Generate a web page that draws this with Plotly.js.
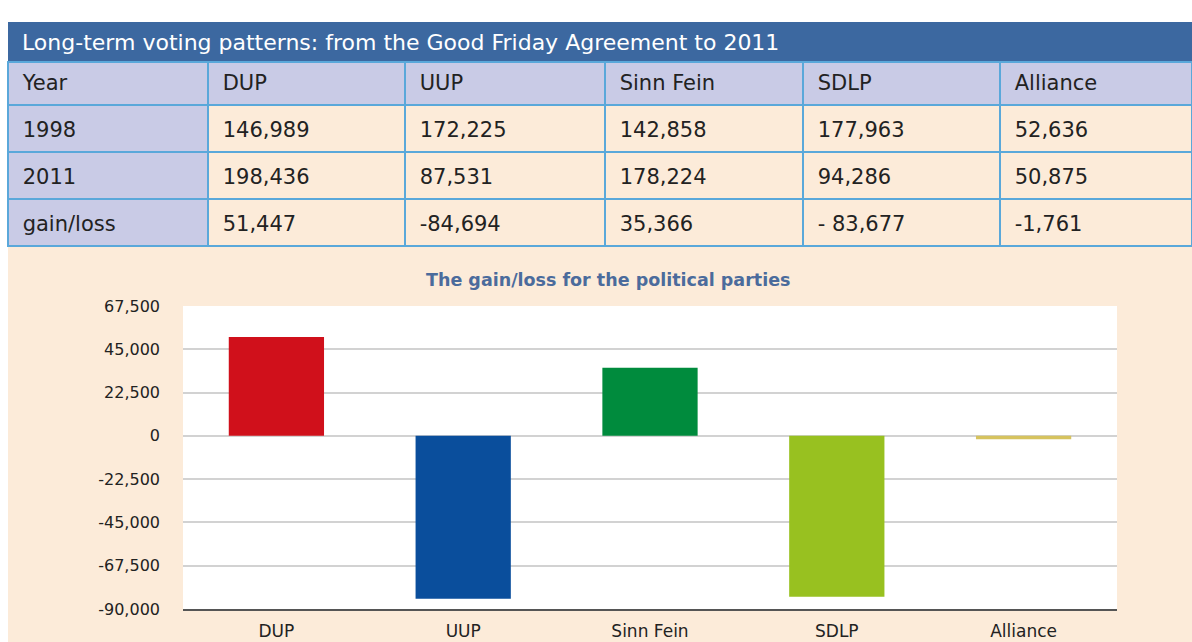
<!DOCTYPE html>
<html>
<head>
<meta charset="utf-8">
<script src="https://cdn.plot.ly/plotly-3.0.1.min.js"></script>
<style>
  html, body { margin: 0; padding: 0; background: #fff; }
  #chart { width: 1192px; height: 642px; }
</style>
</head>
<body>
<div id="chart"></div>
<script>
// ---- data ----
const parties = ["DUP", "UUP", "Sinn Fein", "SDLP", "Alliance"];
const votes1998 = [146989, 172225, 142858, 177963, 52636];
const votes2011 = [198436, 87531, 178224, 94286, 50875];
const gainLoss = [51447, -84694, 35366, -83677, -1761];
const gainLossText = ["51,447", "-84,694", "35,366", "- 83,677", "-1,761"];
const rowLabels = ["1998", "2011", "gain/loss"];
const yTickValues = [-90000, -67500, -45000, -22500, 0, 22500, 45000, 67500];
const partyColors = ["#d0101b", "#0a4e9c", "#008b3d", "#98c120", "#d6c35e"];

// ---- helpers ----
const W = 1192, H = 642;
const px = x => x / W;
const py = y => 1 - y / H;
const fmt = v => v.toLocaleString("en-US");
const pad = t => "\u00a0" + t;

const FONT = "DejaVu Sans, Verdana, sans-serif";
const peach = "#fcebd9";
const lavender = "#c9cbe6";
const clear = "rgba(0,0,0,0)";
const gridBlue = "#5aa8da";

// table columns
const headerVals = ["Year"].concat(parties);
const cellCols = [rowLabels];
for (let i = 0; i < parties.length; i++) {
  cellCols.push([fmt(votes1998[i]), fmt(votes2011[i]), gainLossText[i]]);
}
const cellFill = cellCols.map((c, i) => c.map(() => i === 0 ? lavender : peach));
const blankCols = cellCols.map(c => c.map(() => ""));
const colW = [200, 197, 200, 198, 197, 192];
const tFont = { family: FONT, size: 21, color: "#222" };

// table background: fills and rules
const tableGrid = {
  type: "table",
  domain: { x: [px(8), 1], y: [py(252), py(62)] },
  columnwidth: colW,
  header: {
    values: headerVals.map(() => ""),
    height: 43,
    fill: { color: lavender },
    line: { color: gridBlue, width: 1.5 },
    font: tFont
  },
  cells: {
    values: blankCols,
    height: 47,
    fill: { color: cellFill },
    line: { color: gridBlue, width: 1.5 },
    font: tFont
  }
};

// table text, laid over the grid so that it sits mid-row
const tableText = {
  type: "table",
  domain: { x: [px(8), 1], y: [py(262), py(66)] },
  columnwidth: colW,
  header: {
    values: headerVals.map(pad),
    align: "left",
    height: 47,
    fill: { color: clear },
    line: { color: clear, width: 0 },
    font: tFont
  },
  cells: {
    values: cellCols.map(col => col.map(pad)),
    align: "left",
    height: 47,
    fill: { color: clear },
    line: { color: clear, width: 0 },
    font: tFont
  }
};

const bars = {
  type: "bar",
  x: parties,
  y: gainLoss,
  marker: { color: partyColors },
  xaxis: "x", yaxis: "y",
  hoverinfo: "x+y"
};

const layout = {
  width: W, height: H,
  margin: { l: 0, r: 0, t: 0, b: 0 },
  paper_bgcolor: peach,
  plot_bgcolor: "#ffffff",
  showlegend: false,
  bargap: 0.49,
  font: { family: FONT, color: "#222" },
  xaxis: {
    domain: [px(183), px(1117)],
    anchor: "y",
    showline: true, linecolor: "#555", linewidth: 2,
    showgrid: false,
    ticks: "",
    ticklabelstandoff: 6,
    tickfont: { family: FONT, size: 17, color: "#222" }
  },
  yaxis: {
    domain: [py(609), py(306)],
    anchor: "x",
    range: [-90000, 67500],
    tickvals: yTickValues,
    ticktext: yTickValues.map(fmt),
    showgrid: true, gridcolor: "#d2d2d2", gridwidth: 2,
    zeroline: true, zerolinecolor: "#d2d2d2", zerolinewidth: 2,
    ticks: "",
    ticklabelstandoff: 22,
    tickfont: { family: FONT, size: 16, color: "#222" }
  },
  shapes: [
    { type: "rect", xref: "paper", yref: "paper", x0: 0, x1: 1, y0: py(22), y1: 1,
      fillcolor: "#ffffff", line: { width: 0 }, layer: "below" },
    { type: "rect", xref: "paper", yref: "paper", x0: 0, x1: px(8), y0: 0, y1: 1,
      fillcolor: "#ffffff", line: { width: 0 }, layer: "below" },
    { type: "rect", xref: "paper", yref: "paper", x0: px(8), x1: 1, y0: py(62), y1: py(22),
      fillcolor: "#3c68a0", line: { width: 0 }, layer: "below" }
  ],
  annotations: [
    { xref: "paper", yref: "paper", x: px(20), y: py(42), xanchor: "left", yanchor: "middle",
      showarrow: false, text: "Long-term voting patterns: from the Good Friday Agreement to 2011",
      font: { family: FONT, size: 22, color: "#ffffff" } },
    { xref: "paper", yref: "paper", x: px(608), y: py(280), xanchor: "center", yanchor: "middle",
      showarrow: false, text: "<b>The gain/loss for the political parties</b>",
      font: { family: FONT, size: 17.5, color: "#4b6b9c" } }
  ]
};

Plotly.newPlot("chart", [tableGrid, tableText, bars], layout, { displayModeBar: false, staticPlot: true });
</script>
</body>
</html>
